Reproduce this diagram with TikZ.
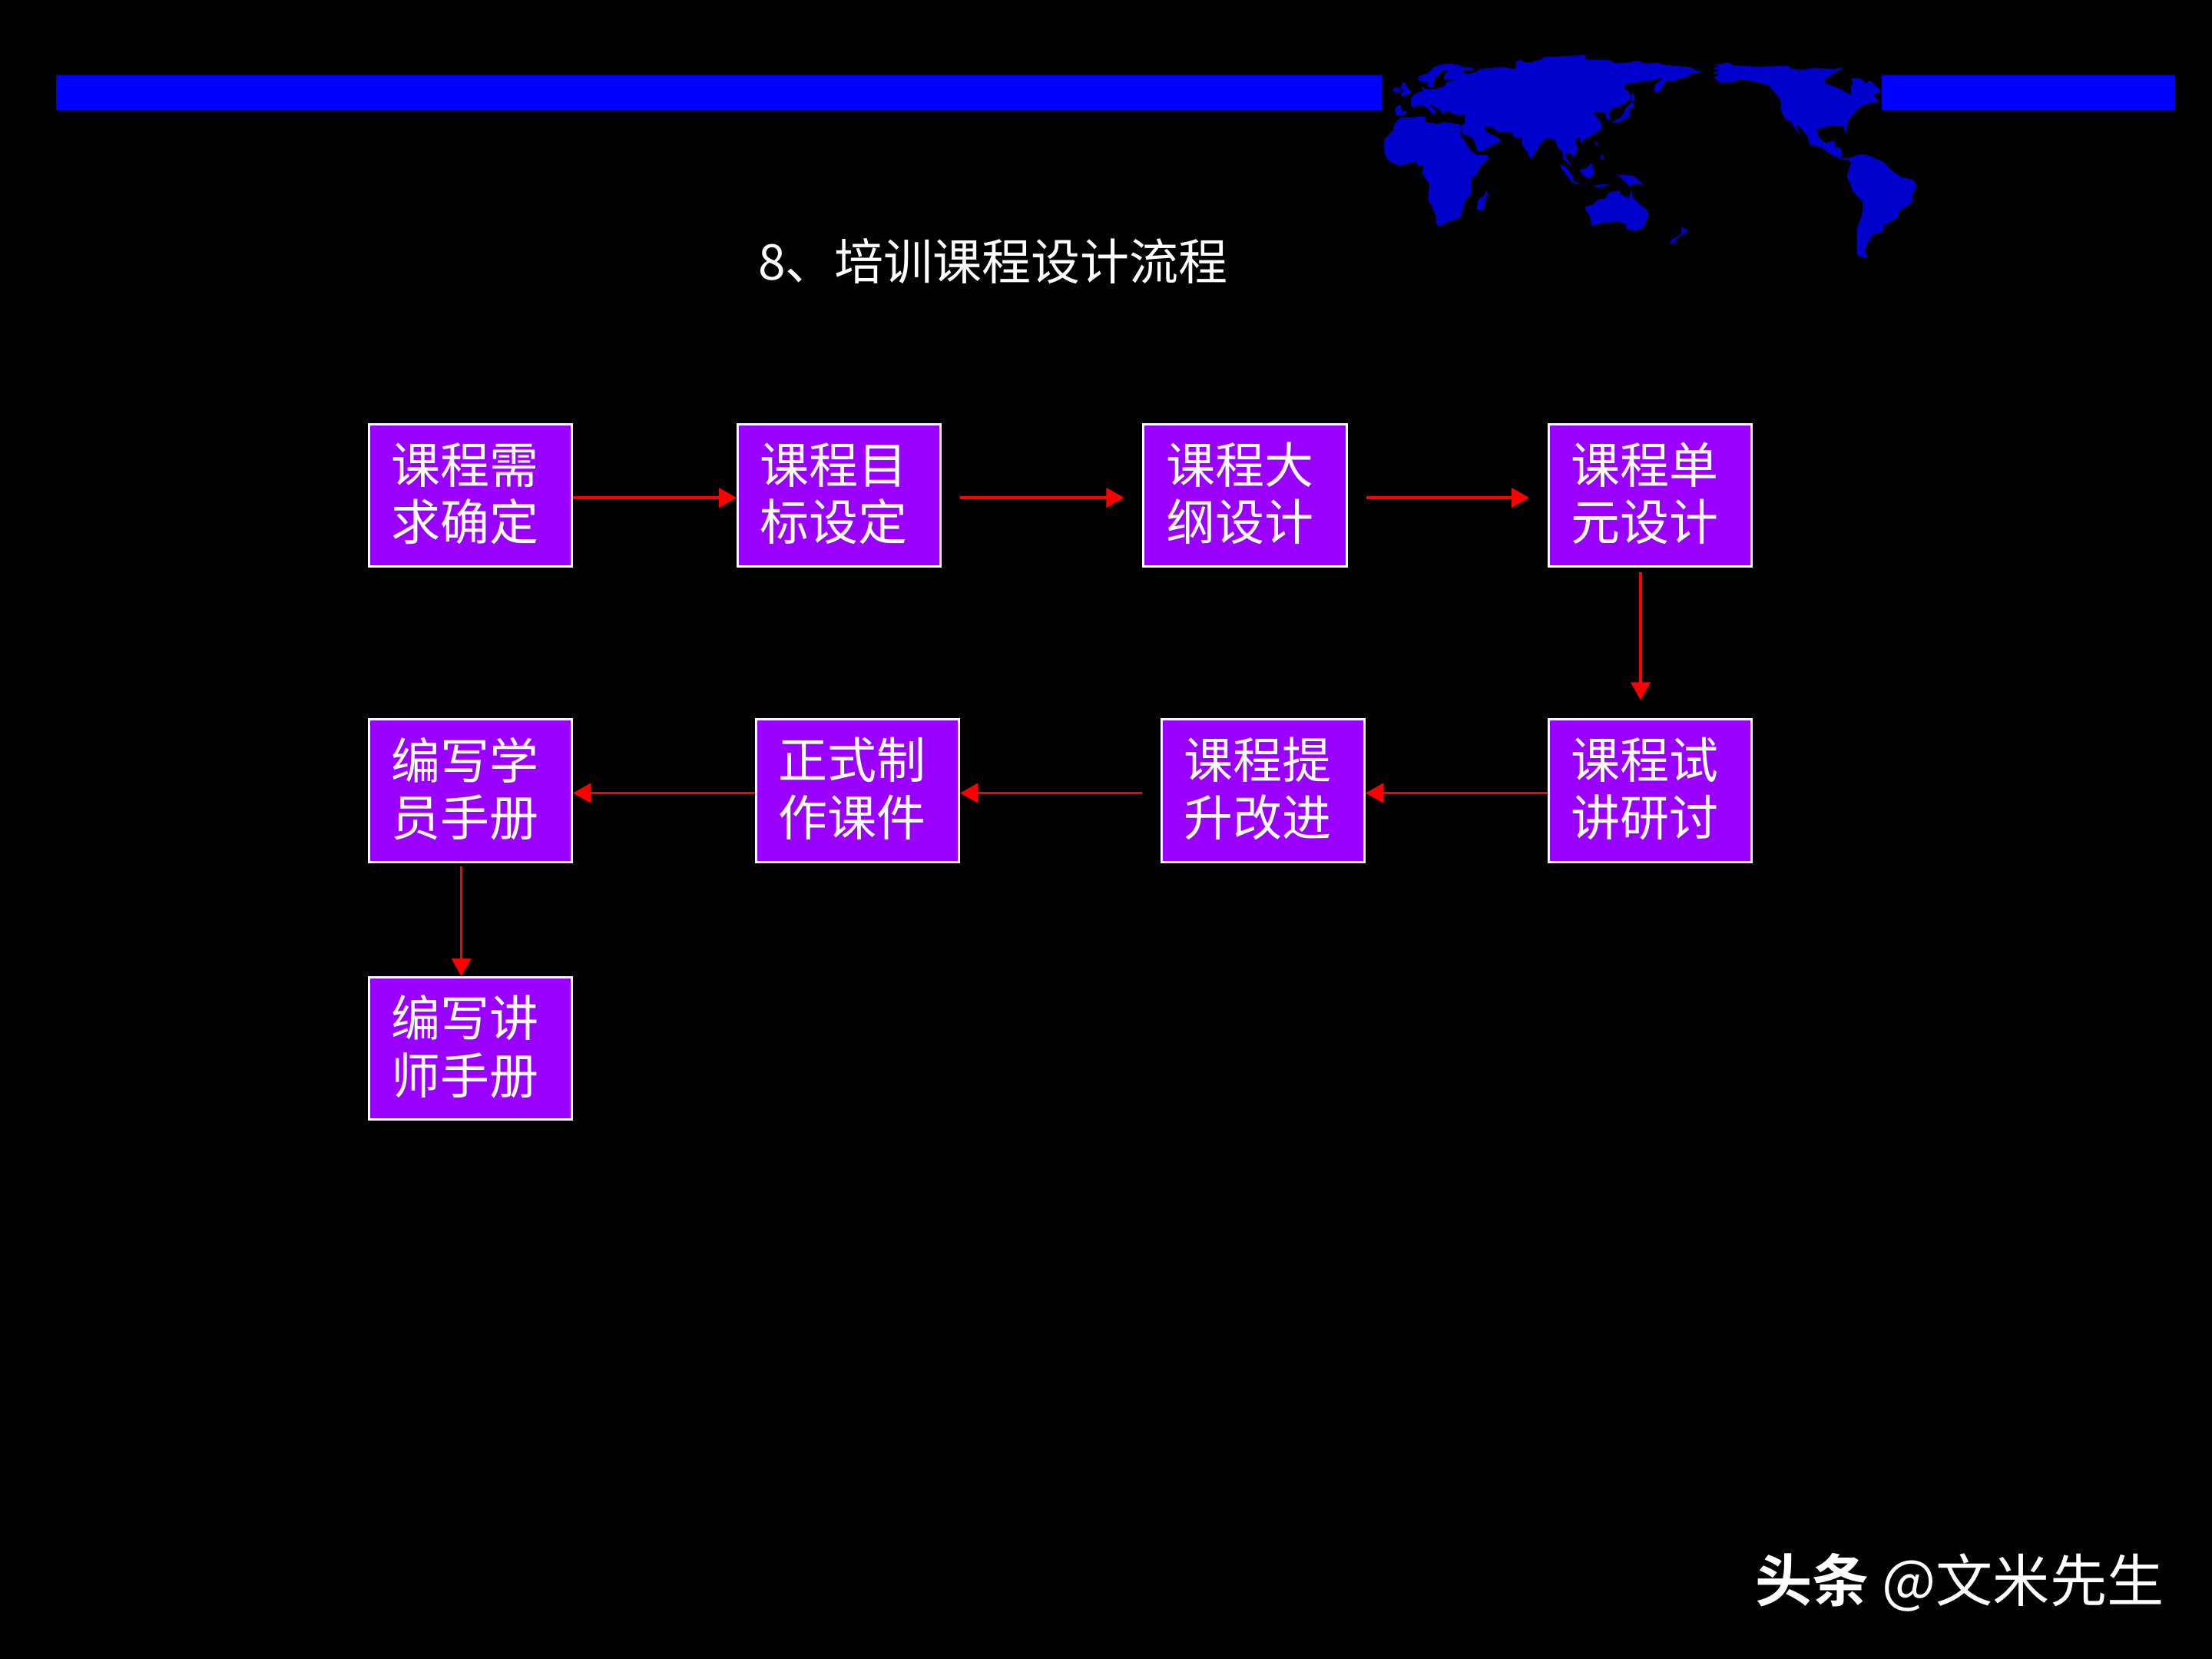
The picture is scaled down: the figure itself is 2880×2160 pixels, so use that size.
\documentclass[tikz,border=0pt]{standalone}
\usepackage{fontspec}
\newfontfamily\cjk[BoldFont={Noto Sans CJK SC Bold}]{Noto Sans CJK SC}
\usetikzlibrary{arrows.meta}
\definecolor{barblue}{HTML}{0000FF}
\definecolor{landblue}{HTML}{0000CC}
\definecolor{boxviolet}{HTML}{9900FF}
\tikzset{
    courseBox/.style={draw=white,fill=boxviolet,line width=.03cm,text=white,
        minimum width=2.64cm,minimum height=1.85cm,inner xsep=.295cm,inner ysep=0pt,
        text width=2.05cm,align=left,font=\cjk\fontsize{18.2}{21.2}\selectfont,
        execute at end node={\par\vspace{.05cm}}},
    flow/.style={draw=red,line width=.035cm,-{Triangle[length=.23cm,width=.25cm]}},
    landmass/.style={fill=landblue}
}
\begin{document}
\begin{tikzpicture}[x=.01cm,y=-.01cm]
    \fill[black] (0,0) rectangle (2880,2160);

    % Franja superior y mapa.
    \fill[barblue] (73,98) rectangle (1799,143);
    \fill[barblue] (2450,98) rectangle (2832,143);
    \begin{scope}[shift={(1760,50)},xscale=.4847,yscale=.3333]
        \fill[landmass] plot[smooth cycle,tension=.25] coordinates {(160,230) (175,212) (190,205) (188,183) (195,198) (215,198) (232,195) (250,185) (255,170) (280,162) (248,158) (250,140) (258,128) (245,125) (225,150) (220,170) (218,188) (205,188) (202,168) (190,170) (178,160) (180,148) (205,135) (218,115) (240,102) (265,98) (290,105) (300,112) (325,115) (322,122) (295,125) (310,140) (335,130) (342,120) (380,115) (410,112) (438,120) (442,90) (455,85) (470,95) (510,82) (515,73) (560,70) (625,66) (630,82) (690,85) (705,95) (730,97) (765,88) (790,98) (820,96) (850,105) (905,112) (925,125) (945,130) (925,135) (908,135) (908,148) (880,155) (870,165) (845,165) (830,200) (818,213) (812,195) (818,175) (838,152) (800,165) (770,170) (738,178) (730,195) (745,210) (748,235) (735,250) (720,265) (700,272) (690,290) (695,315) (685,315) (680,290) (665,285) (648,290) (665,320) (672,345) (660,365) (630,390) (615,408) (612,390) (600,392) (605,440) (592,465) (590,450) (572,450) (578,470) (590,500) (568,470) (565,440) (555,428) (545,395) (522,390) (505,415) (490,450) (482,472) (470,440) (458,415) (458,390) (435,385) (430,368) (395,365) (380,350) (360,342) (358,360) (375,375) (390,385) (400,400) (375,420) (340,443) (335,425) (322,385) (300,375) (293,345) (303,330) (303,300) (270,295) (262,280) (252,285) (245,295) (235,275) (220,265) (205,252) (225,285) (220,298) (205,275) (188,260) (160,268)};
        \fill[landmass] plot[smooth cycle,tension=.25] coordinates {(130,310) (165,308) (195,305) (197,325) (230,333) (250,327) (293,338) (292,375) (305,405) (315,430) (335,455) (365,455) (365,470) (345,500) (335,530) (320,550) (322,600) (305,630) (298,665) (290,700) (260,715) (235,733) (228,725) (225,690) (212,645) (205,630) (208,570) (190,530) (192,495) (178,495) (170,480) (150,490) (125,495) (100,478) (88,450) (88,395) (110,360) (115,335)};
        \fill[landmass] plot[smooth cycle,tension=.25] coordinates {(972,105) (1000,97) (1015,96) (1025,105) (1090,110) (1170,108) (1185,120) (1215,122) (1240,115) (1290,120) (1320,113) (1310,122) (1270,160) (1272,175) (1300,190) (1315,200) (1340,220) (1340,195) (1345,175) (1342,158) (1365,155) (1380,175) (1392,165) (1418,200) (1415,215) (1398,220) (1418,245) (1398,250) (1370,262) (1350,290) (1335,315) (1330,335) (1328,375) (1318,340) (1290,340) (1250,355) (1255,385) (1272,408) (1295,400) (1300,425) (1315,430) (1315,465) (1340,465) (1365,452) (1390,458) (1430,485) (1450,515) (1480,545) (1505,550) (1517,575) (1505,610) (1503,640) (1470,675) (1465,700) (1430,730) (1425,755) (1400,765) (1385,800) (1378,825) (1385,855) (1358,845) (1358,740) (1370,690) (1372,640) (1345,595) (1340,570) (1330,540) (1340,490) (1335,475) (1315,470) (1290,455) (1260,425) (1230,415) (1225,385) (1200,340) (1193,345) (1208,385) (1190,350) (1180,325) (1165,315) (1152,280) (1152,240) (1120,185) (1095,172) (1045,160) (1020,170) (990,172) (972,150) (990,143) (970,135) (990,125) (970,118) (990,105)};
        % Islas.
        \fill[landmass] plot[smooth cycle,tension=.25] coordinates {(110,200) (118,192) (130,195) (128,207) (115,212)};
        \fill[landmass] plot[smooth cycle,tension=.25] coordinates {(130,190) (140,170) (145,185) (160,212) (135,225) (130,215) (140,205)};
        \fill[landmass] plot[smooth cycle,tension=.25] coordinates {(118,268) (130,260) (135,285) (148,283) (140,300) (120,300) (116,285)};
        \fill[landmass] plot[smooth cycle,tension=.25] coordinates {(362,595) (365,615) (358,630) (355,665) (345,672) (336,665) (340,630) (355,615)};
        \fill[landmass] plot[smooth cycle,tension=.25] coordinates {(755,212) (760,240) (752,250) (760,262) (745,280) (745,305) (720,325) (698,328) (725,305) (735,275) (750,250) (750,225)};
        \fill[landmass] (657,402) -- (662,420) -- (653,418) -- cycle;
        \fill[landmass] (672,450) -- (677,470) -- (667,470) -- cycle;
        \fill[landmass] plot[smooth cycle,tension=.25] coordinates {(645,488) (650,530) (635,545) (622,535) (612,515) (630,505)};
        \fill[landmass] plot[smooth cycle,tension=.25] coordinates {(558,495) (570,497) (590,530) (597,560) (612,565) (600,568) (590,558) (575,530)};
        \fill[landmass] plot[smooth cycle,tension=.25] coordinates {(648,575) (685,568) (688,573) (665,582)};
        \fill[landmass] plot[smooth cycle,tension=.25] coordinates {(705,527) (720,535) (735,533) (760,540) (785,575) (765,565) (745,575) (725,545)};
        \fill[landmass] plot[smooth cycle,tension=.25] coordinates {(628,658) (645,650) (665,628) (682,625) (690,602) (720,595) (722,610) (745,622) (750,592) (757,625) (795,675) (795,695) (782,740) (760,750) (740,745) (735,725) (718,715) (680,718) (645,730) (640,695) (628,670)};
        \fill[landmass] (885,737) -- (905,750) -- (890,765) -- (870,785) -- (870,800) -- (853,800) -- (860,785) -- (885,765) -- cycle;
    \end{scope}

    \node[text=white,anchor=west,font=\cjk\fontsize{18.2}{21.6}\selectfont] (title) at (975,340) {8、培训课程设计流程};

    % Cajas del proceso.
    \node[courseBox] (need) at (612.5,645) {课程需\\求确定};
    \node[courseBox] (goal) at (1092.5,645) {课程目\\标设定};
    \node[courseBox] (outline) at (1621,645) {课程大\\纲设计};
    \node[courseBox] (unit) at (2148.5,645) {课程单\\元设计};
    \node[courseBox] (trial) at (2148.5,1029.5) {课程试\\讲研讨};
    \node[courseBox] (improve) at (1644.5,1029.5) {课程提\\升改进};
    \node[courseBox] (courseware) at (1116.5,1029.5) {正式制\\作课件};
    \node[courseBox] (student) at (612.5,1029.5) {编写学\\员手册};
    \node[courseBox] (lecturer) at (612.5,1365) {编写讲\\师手册};

    % Flechas.
    \draw[flow] ([yshift=-.03cm]need.east) -- ([yshift=-.03cm]goal.west);
    \draw[flow,shorten <=.24cm,shorten >=.24cm] ([yshift=-.03cm]goal.east) -- ([yshift=-.03cm]outline.west);
    \draw[flow,shorten <=.24cm,shorten >=.24cm] ([yshift=-.03cm]outline.east) -- ([yshift=-.03cm]unit.west);
    \draw[flow,shorten <=.06cm,shorten >=.24cm] ([xshift=-.125cm]unit.south) -- ([xshift=-.125cm]trial.north);
    \draw[flow] ([yshift=-.03cm]trial.west) -- ([yshift=-.03cm]improve.east);
    \draw[flow,shorten <=.24cm] ([yshift=-.03cm]improve.west) -- ([yshift=-.03cm]courseware.east);
    \draw[flow] ([yshift=-.03cm]courseware.west) -- ([yshift=-.03cm]student.east);
    \draw[flow,shorten <=.04cm] ([xshift=-.12cm]student.south) -- ([xshift=-.12cm]lecturer.north);

    \node[text=white,anchor=east,font=\cjk\fontsize{21.1}{25}\selectfont] (mark) at (2830,2060) {\textbf{头条} @文米先生};
\end{tikzpicture}
\end{document}
